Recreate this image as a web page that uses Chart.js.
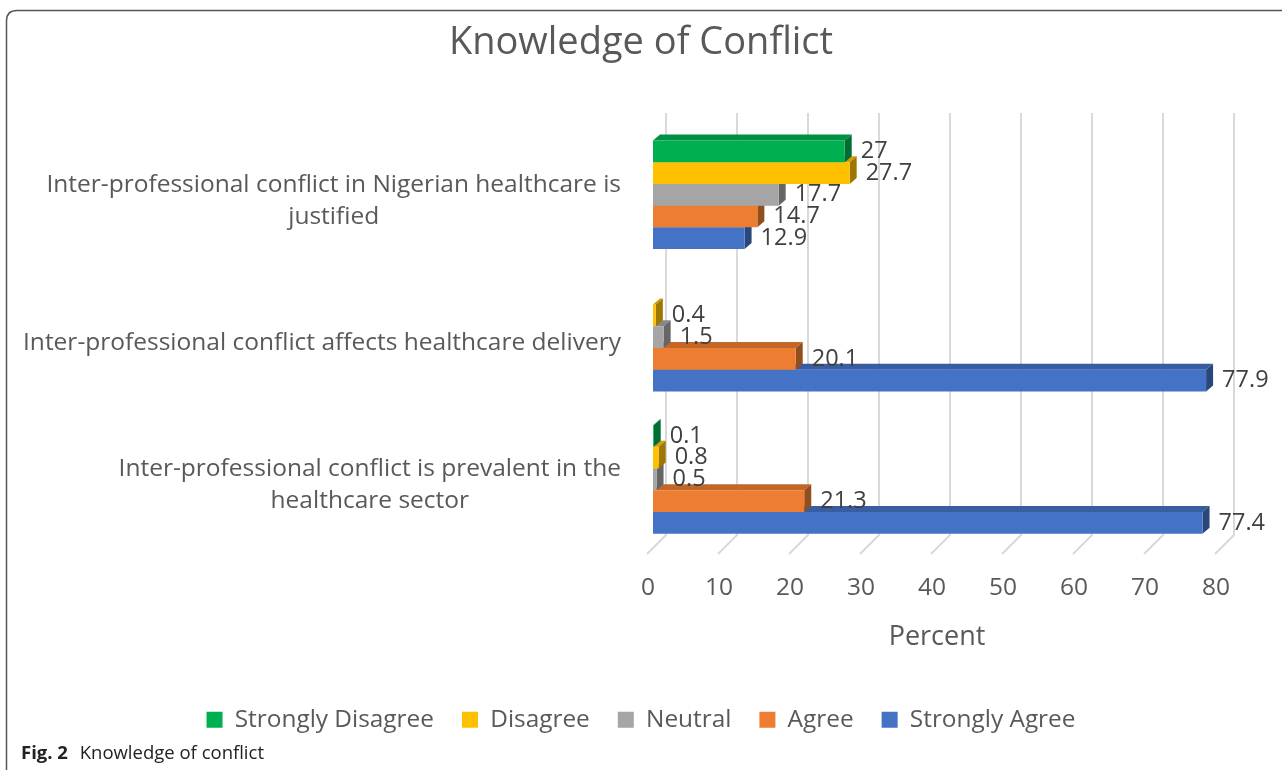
<!DOCTYPE html>
<html>
<head>
<meta charset="utf-8">
<script src="https://cdn.jsdelivr.net/npm/chart.js@4.4.1/dist/chart.umd.min.js"></script>
<style>
  body { margin: 0; background: #fff; }
  #wrap { position: relative; width: 1282px; height: 770px; }
  #caption { position: absolute; left: 21px; top: 739px; font-family: "Open Sans", sans-serif; font-size: 18.5px; color: #222; }
  #caption b { font-weight: 700; margin-right: 7px; }
</style>
</head>
<body>
<div id="wrap">
  <canvas id="knowledgeChart" width="1282" height="770"></canvas>
  <div id="caption"><b>Fig. 2</b> Knowledge of conflict</div>
</div>
<script>
// chart data
const categories = [
    ['Inter-professional conflict in Nigerian healthcare is', 'justified'],
    ['Inter-professional conflict affects healthcare delivery'],
    ['Inter-professional conflict is prevalent in the', 'healthcare sector']
];
const seriesNames = ['Strongly Disagree', 'Disagree', 'Neutral', 'Agree', 'Strongly Agree'];
const stronglyDisagree = [27, null, 0.1];
const disagree = [27.7, 0.4, 0.8];
const neutral = [17.7, 1.5, 0.5];
const agree = [14.7, 20.1, 21.3];
const stronglyAgree = [12.9, 77.9, 77.4];
const xTicks = [0, 10, 20, 30, 40, 50, 60, 70, 80];

const colors = ['#00B050', '#FFC000', '#A5A5A5', '#ED7D31', '#4472C4'];
const textGray = '#595959';

Chart.defaults.font.family = '"Open Sans", sans-serif';

function shade(hex, f) {
    const n = parseInt(hex.slice(1), 16);
    const r = Math.round(((n >> 16) & 255) * f);
    const g = Math.round(((n >> 8) & 255) * f);
    const b = Math.round((n & 255) * f);
    return `rgb(${r},${g},${b})`;
}

const DX = 7, DY = 6; // bar depth

// frame, back grid, floor marks and bar depth faces
const threeD = {
    id: 'threeD',
    beforeDraw(chart) {
        const c = chart.ctx;
        c.save();
        c.strokeStyle = '#555';
        c.lineWidth = 1.5;
        c.beginPath();
        c.moveTo(6.5, 770);
        c.lineTo(6.5, 21);
        c.quadraticCurveTo(6.5, 10.5, 17, 10.5);
        c.lineTo(1282, 10.5);
        c.stroke();
        c.restore();
    },
    beforeDatasetsDraw(chart) {
        const c = chart.ctx;
        const xs = chart.scales.x;
        c.save();
        c.strokeStyle = '#d9d9d9';
        c.lineWidth = 2;
        xTicks.forEach(v => {
            const px = xs.getPixelForValue(v);
            c.beginPath();
            c.moveTo(px + 13, 113);
            c.lineTo(px + 13, 535);
            c.lineTo(px - 6, 554);
            c.stroke();
        });
        // depth faces, bottom bar first
        for (let d = chart.data.datasets.length - 1; d >= 0; d--) {
            const meta = chart.getDatasetMeta(d);
            meta.data.forEach((bar, i) => {
                if (chart.data.datasets[d].data[i] == null) return;
                const p = bar.getProps(['x', 'y', 'base', 'height'], true);
                const top = p.y - p.height / 2, bottom = p.y + p.height / 2;
                c.fillStyle = shade(colors[d], 0.82);
                c.beginPath();
                c.moveTo(p.base, top);
                c.lineTo(p.x, top);
                c.lineTo(p.x + DX, top - DY);
                c.lineTo(p.base + DX, top - DY);
                c.closePath();
                c.fill();
                c.fillStyle = shade(colors[d], 0.62);
                c.beginPath();
                c.moveTo(p.x, top);
                c.lineTo(p.x, bottom);
                c.lineTo(p.x + DX, bottom - DY);
                c.lineTo(p.x + DX, top - DY);
                c.closePath();
                c.fill();
            });
        }
        c.restore();
    },
    afterDraw(chart) {
        const c = chart.ctx;
        const ys = chart.scales.y;
        c.save();
        // value labels
        c.font = '23.5px "Open Sans", sans-serif';
        c.fillStyle = '#404040';
        c.textAlign = 'left';
        c.textBaseline = 'middle';
        chart.data.datasets.forEach((ds, d) => {
            chart.getDatasetMeta(d).data.forEach((bar, i) => {
                if (ds.data[i] == null) return;
                c.fillText(String(ds.data[i]), bar.x + 16, bar.y);
            });
        });
        // category labels
        c.font = '24.5px "Open Sans", sans-serif';
        c.fillStyle = textGray;
        c.textAlign = 'center';
        categories.forEach((lines, i) => {
            const cy = ys.getPixelForValue(i) + 6;
            const w = Math.max(...lines.map(l => c.measureText(l).width));
            const cx = 621 - w / 2;
            lines.forEach((l, k) => {
                c.fillText(l, cx, cy + (k - (lines.length - 1) / 2) * 32);
            });
        });
        c.restore();
    }
};

const seriesData = [stronglyDisagree, disagree, neutral, agree, stronglyAgree];

new Chart(document.getElementById('knowledgeChart'), {
    type: 'bar',
    data: {
        labels: categories,
        datasets: seriesNames.map((name, k) => ({
            label: name,
            data: seriesData[k],
            backgroundColor: colors[k],
            borderWidth: 0,
            categoryPercentage: 0.763,
            barPercentage: 1
        }))
    },
    options: {
        indexAxis: 'y',
        responsive: false,
        animation: false,
        layout: { padding: { top: 20, right: 61, bottom: 28, left: 61 } },
        scales: {
            x: {
                min: 0,
                max: 80,
                afterFit: s => { s.height = 129; },
                afterBuildTicks: s => { s.ticks = xTicks.map(v => ({ value: v })); },
                grid: { display: false, drawTicks: false },
                border: { display: false },
                ticks: { color: textGray, font: { size: 24.5 }, padding: 23, labelOffset: -5 },
                title: { display: true, text: 'Percent', color: textGray, font: { size: 27 }, padding: { top: 0, bottom: 26 } }
            },
            y: {
                afterFit: s => { s.width = 592; },
                grid: { display: false, drawTicks: false },
                border: { display: false },
                ticks: { display: false }
            }
        },
        plugins: {
            title: {
                display: true,
                text: 'Knowledge of Conflict',
                color: textGray,
                font: { size: 38, weight: 'normal' },
                padding: { top: 0, bottom: 58 }
            },
            legend: {
                position: 'bottom',
                labels: { boxWidth: 16, boxHeight: 16, color: textGray, font: { size: 24.4 }, padding: 28 }
            },
            tooltip: { enabled: false }
        }
    },
    plugins: [threeD]
});
</script>
</body>
</html>
